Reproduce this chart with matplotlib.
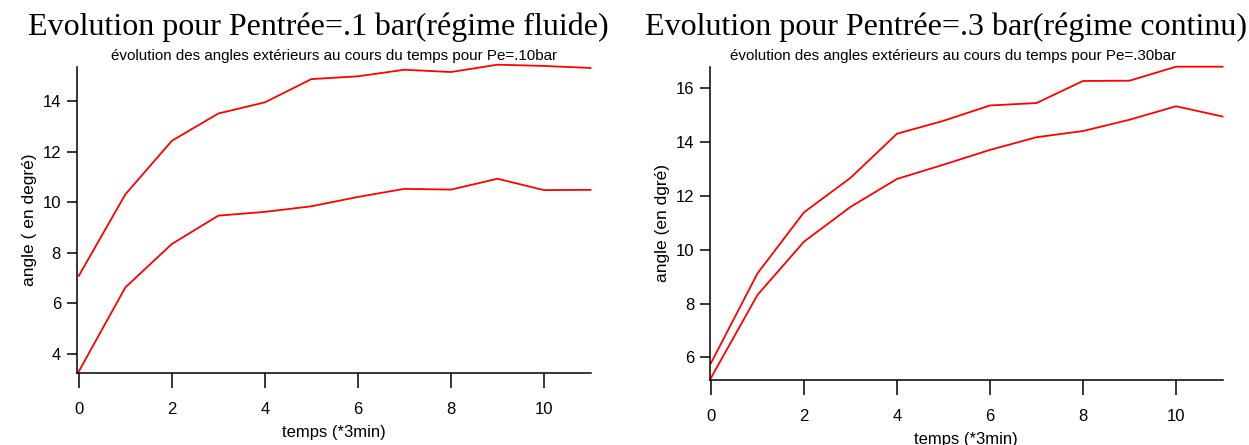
import matplotlib
matplotlib.use("Agg")
import matplotlib.pyplot as plt

# temps (*3min)
temps = list(range(12))

# Pe = .10 bar
fluide_haut = [7.09, 10.31, 12.43, 13.51, 13.95, 14.87, 14.98, 15.24, 15.15, 15.44, 15.39, 15.31]
fluide_bas = [3.31, 6.63, 8.35, 9.47, 9.62, 9.84, 10.21, 10.53, 10.50, 10.93, 10.48, 10.49]

# Pe = .30 bar
continu_haut = [5.79, 9.12, 11.39, 12.67, 14.31, 14.79, 15.36, 15.45, 16.27, 16.28, 16.80, 16.80]
continu_bas = [5.24, 8.32, 10.30, 11.59, 12.63, 13.16, 13.71, 14.18, 14.41, 14.83, 15.33, 14.95]

xticks = [0, 2, 4, 6, 8, 10]
yticks_fluide = [4, 6, 8, 10, 12, 14]
yticks_continu = [6, 8, 10, 12, 14, 16]

plt.rcParams['font.family'] = ['Liberation Sans', 'DejaVu Sans']

fig = plt.figure(figsize=(12.49, 4.45), dpi=100)


def style_axes(ax, xlim, ylim, yticks, ylabel, sous_titre, x_titre=0.5):
    ax.set_xlim(*xlim)
    ax.set_ylim(*ylim)
    ax.set_xticks(xticks)
    ax.set_yticks(yticks)
    for side in ['top', 'right']:
        ax.spines[side].set_visible(False)
    for side in ['left', 'bottom']:
        ax.spines[side].set_linewidth(1.1)
    ax.tick_params(axis='x', direction='out', length=11, width=1.1, pad=10, labelsize=12)
    ax.tick_params(axis='y', direction='out', length=7.5, width=1.1, pad=4, labelsize=12)
    ax.set_xlabel('temps (*3min)', fontsize=12, labelpad=6)
    ax.set_ylabel(ylabel, fontsize=12.5, labelpad=4)
    ax.set_title(sous_titre, fontsize=10.9, pad=5, x=x_titre)


ax1 = fig.add_axes([0.0616, 0.1625, 0.4112, 0.6876])
ax1.plot(temps, fluide_haut, color='#ff0000', lw=1.3, clip_on=False)
ax1.plot(temps, fluide_bas, color='#ff0000', lw=1.3, clip_on=False)
style_axes(ax1, (-0.04, 11), (3.26, 15.36), yticks_fluide, 'angle ( en degré)',
           'évolution des angles extérieurs au cours du temps pour Pe=.10bar')

ax2 = fig.add_axes([0.5685, 0.1461, 0.4103, 0.7040])
ax2.plot(temps, continu_haut, color='#ff0000', lw=1.3, clip_on=False)
ax2.plot(temps, continu_bas, color='#ff0000', lw=1.3, clip_on=False)
style_axes(ax2, (-0.02, 11), (5.16, 16.80), yticks_continu, 'angle (en dgré)',
           'évolution des angles extérieurs au cours du temps pour Pe=.30bar', x_titre=0.475)

fig.text(0.0224, 0.9213, 'Evolution pour Pentrée=.1 bar(régime fluide)',
         ha='left', va='baseline', fontsize=23, family='Liberation Serif')
fig.text(0.5164, 0.9213, 'Evolution pour Pentrée=.3 bar(régime continu)',
         ha='left', va='baseline', fontsize=23, family='Liberation Serif')

fig.savefig('out.png', dpi=100)
